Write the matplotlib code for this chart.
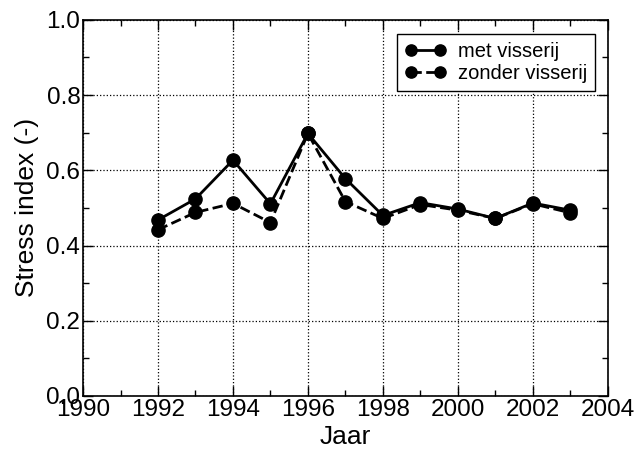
import matplotlib.pyplot as plt
from matplotlib.ticker import MultipleLocator

plt.rcParams['font.family'] = ['Liberation Sans', 'DejaVu Sans']

# data
jaren = [1992, 1993, 1994, 1995, 1996, 1997, 1998, 1999, 2000, 2001, 2002, 2003]
met_visserij = [0.468, 0.524, 0.627, 0.511, 0.698, 0.578, 0.480, 0.514, 0.497, 0.472, 0.513, 0.494]
zonder_visserij = [0.442, 0.488, 0.512, 0.461, 0.698, 0.517, 0.472, 0.509, 0.494, 0.472, 0.511, 0.487]

fig = plt.figure(figsize=(6.39, 4.51), dpi=100)
ax = fig.add_axes([0.130, 0.122, 0.821, 0.834])

ax.plot(jaren, zonder_visserij, color='black', linestyle='--', linewidth=2,
        marker='o', markersize=9.5, label='zonder visserij', zorder=3)
ax.plot(jaren, met_visserij, color='black', linestyle='-', linewidth=2,
        marker='o', markersize=9.5, label='met visserij', zorder=4)

ax.set_xlim(1990, 2004)
ax.set_ylim(0.0, 1.0)
ax.xaxis.set_major_locator(MultipleLocator(2))
ax.xaxis.set_minor_locator(MultipleLocator(1))
ax.yaxis.set_major_locator(MultipleLocator(0.2))
ax.yaxis.set_minor_locator(MultipleLocator(0.1))
ax.yaxis.set_major_formatter(plt.FormatStrFormatter('%.1f'))

ax.tick_params(which='both', direction='in', top=True, right=True, pad=2,
               labelsize=17.5)
ax.tick_params(which='major', length=7, width=1)
ax.tick_params(which='minor', length=4, width=1)
ax.grid(True, which='major', linestyle=':', color='black', linewidth=0.9)

for s in ax.spines.values():
    s.set_linewidth(1.2)

ax.set_xlabel('Jaar', fontsize=19, labelpad=3)
ax.set_ylabel('Stress index (-)', fontsize=19, labelpad=5)

handles, labels = ax.get_legend_handles_labels()
leg = ax.legend(handles[::-1], labels[::-1], loc='upper right', numpoints=2,
                fontsize=14.5, fancybox=False, framealpha=1, edgecolor='black',
                handlelength=2.0, handletextpad=0.6, borderpad=0.4,
                labelspacing=0.15, bbox_to_anchor=(0.995, 0.99),
                markerscale=0.85)
leg.get_frame().set_linewidth(1)

fig.savefig('out.png', dpi=100)
